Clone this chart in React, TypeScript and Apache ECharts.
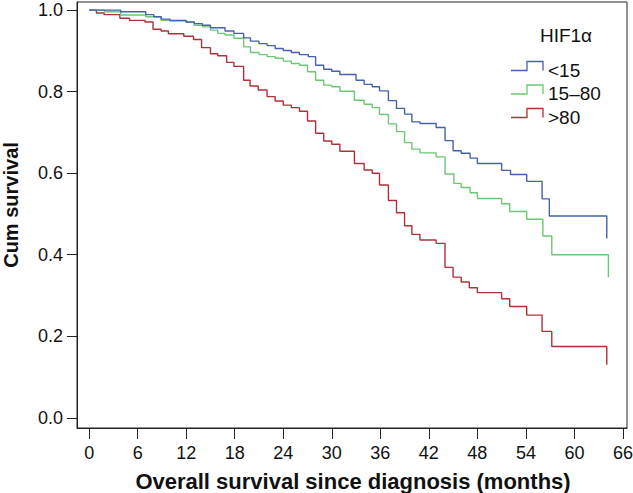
import React, { useEffect, useRef } from "react";
import * as echarts from "echarts";

// Kaplan–Meier curves: event times (months) and cumulative survival after each step
const seriesNames = ["<15", "15–80", ">80"];
const seriesColors = ["#4560ad", "#6cc874", "#b0303a"];

const lowTimes = [0, 3.9, 7.0, 8.0, 8.9, 10.0, 12.0, 13.0, 14.0, 15.0, 16.8, 17.9, 19.1, 19.95, 21.0, 22.0, 23.0, 24.0, 25.0, 26.0, 27.1, 28.0, 29.0, 30.0, 31.0, 33.0, 34.0, 35.0, 35.9, 37.0, 38.0, 39.0, 39.9, 40.9, 42.9, 44.0, 45.0, 46.0, 47.1, 48.0, 51.0, 52.1, 54.1, 56.0, 56.9, 64.0];
const lowSurv = [1.0, 0.996, 0.989, 0.984, 0.978, 0.975, 0.971, 0.967, 0.963, 0.957, 0.949, 0.943, 0.932, 0.924, 0.918, 0.913, 0.906, 0.901, 0.896, 0.891, 0.886, 0.865, 0.855, 0.85, 0.842, 0.828, 0.818, 0.812, 0.802, 0.778, 0.759, 0.745, 0.726, 0.722, 0.712, 0.68, 0.655, 0.649, 0.637, 0.624, 0.607, 0.597, 0.58, 0.537, 0.495, 0.44];

const midTimes = [0, 1.9, 3.9, 7.0, 8.9, 10.0, 12.0, 13.0, 14.0, 15.0, 15.9, 16.8, 17.9, 19.1, 19.95, 21.0, 22.0, 23.0, 24.0, 25.0, 26.0, 27.0, 28.0, 29.0, 30.0, 31.0, 32.8, 34.0, 35.0, 35.9, 37.0, 38.0, 39.0, 39.9, 40.9, 42.9, 44.0, 45.1, 46.0, 47.1, 48.0, 51.0, 52.0, 54.1, 56.1, 57.2, 64.2];
const midSurv = [1.0, 0.996, 0.988, 0.984, 0.975, 0.973, 0.97, 0.963, 0.959, 0.951, 0.943, 0.939, 0.931, 0.91, 0.896, 0.891, 0.886, 0.882, 0.875, 0.869, 0.865, 0.849, 0.828, 0.816, 0.812, 0.801, 0.779, 0.769, 0.761, 0.744, 0.721, 0.702, 0.675, 0.659, 0.65, 0.64, 0.598, 0.575, 0.565, 0.552, 0.538, 0.525, 0.506, 0.487, 0.446, 0.4, 0.345];

const highTimes = [0, 0.9, 1.85, 3.8, 5.0, 6.9, 7.9, 8.9, 9.8, 11.7, 12.9, 13.9, 15.0, 15.9, 17.0, 17.9, 19.1, 19.9, 20.9, 22.0, 23.0, 24.0, 25.0, 26.0, 27.0, 28.0, 29.0, 30.0, 31.0, 32.8, 34.0, 35.0, 35.9, 37.0, 38.0, 39.0, 39.9, 40.9, 42.9, 44.0, 45.0, 46.0, 47.0, 48.0, 51.0, 52.0, 54.1, 56.0, 57.2, 64.0];
const highSurv = [1.0, 0.993, 0.989, 0.98, 0.975, 0.971, 0.953, 0.949, 0.942, 0.936, 0.928, 0.908, 0.893, 0.888, 0.872, 0.862, 0.828, 0.814, 0.804, 0.788, 0.777, 0.767, 0.761, 0.752, 0.728, 0.698, 0.679, 0.671, 0.654, 0.624, 0.608, 0.6, 0.571, 0.533, 0.503, 0.471, 0.45, 0.436, 0.428, 0.369, 0.345, 0.333, 0.319, 0.307, 0.292, 0.273, 0.252, 0.212, 0.175, 0.13];

const xTicks = [0, 6, 12, 18, 24, 30, 36, 42, 48, 54, 60, 66];
const yTicks = [0, 0.2, 0.4, 0.6, 0.8, 1.0];

const legendTitle = "HIF1α";
const xTitle = "Overall survival since diagnosis (months)";
const yTitle = "Cum survival";

const FONT = "'Liberation Sans', Arial, sans-serif";

export default function App() {
  const ref = useRef<HTMLDivElement>(null);

  useEffect(() => {
    if (!ref.current) return;
    const chart = echarts.init(ref.current, undefined, { renderer: "svg" });

    const allTimes = [lowTimes, midTimes, highTimes];
    const allSurv = [lowSurv, midSurv, highSurv];

    const series = seriesNames.map((name, i) => ({
      name,
      type: "line",
      step: "end",
      symbol: "none",
      data: allTimes[i].map((t, j) => [t, allSurv[i][j]]),
      lineStyle: { color: seriesColors[i], width: 1.4 },
      itemStyle: { color: seriesColors[i] },
      z: 3 - i,
    }));

    const legendElements: any[] = [
      {
        type: "text",
        x: 566,
        y: 35,
        style: {
          text: legendTitle,
          font: `19px ${FONT}`,
          fill: "#111",
          textAlign: "center",
          textVerticalAlign: "middle",
        },
      },
    ];
    seriesNames.forEach((name, i) => {
      const base = 70.5 + i * 23.5;
      legendElements.push({
        type: "polyline",
        shape: {
          points: [
            [511, base],
            [527, base],
            [527, base - 9],
            [543, base - 9],
            [543, base],
          ],
        },
        style: { stroke: seriesColors[i], lineWidth: 1.3, fill: null },
      });
      legendElements.push({
        type: "text",
        x: 548,
        y: base - 0.5,
        style: {
          text: name,
          font: `19px ${FONT}`,
          fill: "#111",
          textAlign: "left",
          textVerticalAlign: "middle",
        },
      });
    });

    const option: any = {
      animation: false,
      backgroundColor: "#fff",
      grid: {
        left: 77,
        top: 2,
        width: 550,
        height: 426,
        show: true,
        borderColor: "#222",
        borderWidth: 1,
        backgroundColor: "transparent",
        containLabel: false,
        outerBoundsMode: "none",
      },
      xAxis: {
        type: "value",
        min: -1.5,
        max: 66.5,
        axisLine: { show: true, onZero: false, lineStyle: { color: "#222", width: 1 } },
        axisTick: {
          show: true,
          length: 11,
          customValues: xTicks,
          lineStyle: { color: "#222", width: 1 },
        },
        axisLabel: {
          customValues: xTicks,
          fontSize: 18,
          fontFamily: FONT,
          color: "#111",
          margin: 16,
        },
        splitLine: { show: false },
      },
      yAxis: {
        type: "value",
        min: -0.025,
        max: 1.02,
        axisLine: { show: true, onZero: false, lineStyle: { color: "#222", width: 1 } },
        axisTick: {
          show: true,
          length: 10,
          customValues: yTicks,
          lineStyle: { color: "#222", width: 1 },
        },
        axisLabel: {
          customValues: yTicks,
          fontSize: 18,
          fontFamily: FONT,
          color: "#111",
          margin: 14,
          formatter: (v: number) => v.toFixed(1),
        },
        splitLine: { show: false },
      },
      series,
      graphic: [
        ...legendElements,
        {
          type: "text",
          x: 353,
          y: 481,
          style: {
            text: xTitle,
            font: `bold 22px ${FONT}`,
            fill: "#111",
            textAlign: "center",
            textVerticalAlign: "middle",
          },
        },
        {
          type: "text",
          x: 11,
          y: 205,
          rotation: Math.PI / 2,
          style: {
            text: yTitle,
            font: `bold 20px ${FONT}`,
            fill: "#111",
            textAlign: "center",
            textVerticalAlign: "middle",
          },
        },
      ],
    };

    chart.setOption(option);
    return () => chart.dispose();
  }, []);

  return (
    <div
      ref={ref}
      style={{ position: "fixed", left: 0, top: 0, width: 633, height: 493, background: "#fff" }}
    />
  );
}
